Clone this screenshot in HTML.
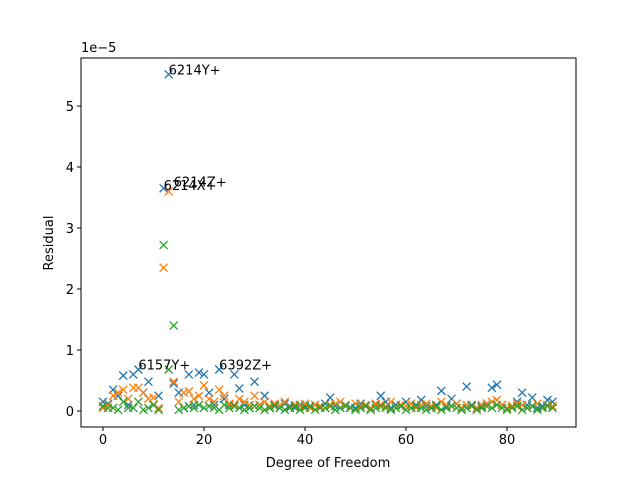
<!DOCTYPE html>
<html><head><meta charset="utf-8"><style>
body{margin:0;background:#fff}
svg text{font-family:"DejaVu Sans","Liberation Sans",sans-serif;fill:#000}
</style></head><body>
<svg id="chart" width="640" height="480" xmlns="http://www.w3.org/2000/svg">
<rect width="640" height="480" fill="#fff"/>
<g id="marks"></g>
<g id="axes"></g>
</svg>
<script>
const seriesX = [0,1,2,3,4,5,6,7,8,9,10,11,12,13,14,15,16,17,18,19,20,21,22,23,24,25,26,27,28,29,30,31,32,33,34,35,36,37,38,39,40,41,42,43,44,45,46,47,48,49,50,51,52,53,54,55,56,57,58,59,60,61,62,63,64,65,66,67,68,69,70,71,72,73,74,75,76,77,78,79,80,81,82,83,84,85,86,87,88,89];
const blueVals = [0.15,0.12,0.35,0.25,0.58,0.1,0.6,0.68,0.3,0.48,0.1,0.25,3.65,5.52,0.45,0.3,0.05,0.6,0.1,0.63,0.6,0.3,0.1,0.68,0.2,0.1,0.6,0.37,0.1,0.05,0.48,0.1,0.25,0.05,0.1,0.05,0.12,0.08,0.05,0.1,0.08,0.05,0.1,0.06,0.12,0.22,0.08,0.05,0.1,0.06,0.05,0.12,0.08,0.05,0.1,0.25,0.15,0.05,0.1,0.08,0.15,0.05,0.1,0.18,0.08,0.05,0.1,0.33,0.08,0.2,0.12,0.05,0.4,0.1,0.05,0.08,0.12,0.38,0.43,0.1,0.05,0.08,0.15,0.3,0.1,0.22,0.05,0.08,0.18,0.15];
const orangeVals = [0.05,0.1,0.25,0.3,0.35,0.2,0.38,0.38,0.3,0.2,0.22,0.05,2.35,3.6,0.48,0.15,0.3,0.32,0.2,0.25,0.42,0.2,0.15,0.35,0.25,0.12,0.1,0.2,0.15,0.1,0.25,0.1,0.15,0.08,0.12,0.1,0.15,0.05,0.1,0.08,0.12,0.05,0.1,0.08,0.05,0.1,0.12,0.15,0.1,0.05,0.12,0.08,0.1,0.05,0.12,0.1,0.08,0.15,0.05,0.1,0.08,0.12,0.05,0.1,0.12,0.08,0.05,0.15,0.1,0.08,0.12,0.05,0.1,0.08,0.05,0.1,0.12,0.15,0.18,0.1,0.05,0.08,0.12,0.1,0.05,0.08,0.12,0.05,0.1,0.08];
const greenVals = [0.08,0.05,0.05,0.02,0.15,0.05,0.05,0.15,0.02,0.05,0.1,0.02,2.72,0.68,1.4,0.02,0.05,0.08,0.05,0.1,0.05,0.08,0.05,0.02,0.1,0.05,0.08,0.05,0.02,0.05,0.08,0.05,0.02,0.05,0.08,0.05,0.02,0.05,0.08,0.02,0.05,0.08,0.02,0.05,0.05,0.08,0.02,0.05,0.08,0.05,0.02,0.05,0.08,0.02,0.05,0.08,0.05,0.02,0.05,0.08,0.02,0.05,0.08,0.05,0.02,0.05,0.08,0.02,0.05,0.08,0.05,0.02,0.05,0.08,0.02,0.05,0.08,0.05,0.1,0.05,0.02,0.05,0.08,0.02,0.05,0.08,0.02,0.05,0.08,0.05];
const xTicks = [0,20,40,60,80];
const yTicks = [0,1,2,3,4,5];
const annLabels = ["6214Y+","6214Z+","6214X+","6157Y+","6392Z+"];
const annX = [13,14,12,7,23];
const annY = [5.52,3.68,3.62,0.68,0.68];

const NS="http://www.w3.org/2000/svg";
const L=81,R=576,T=58,B=427;
const xs=v=>103+v*(504-103)/79.4;
const ys=v=>411-v*61;
function mk(tag,attrs,parent){const e=document.createElementNS(NS,tag);for(const k in attrs)e.setAttribute(k,attrs[k]);parent.appendChild(e);return e;}
const marks=document.getElementById('marks'), axes=document.getElementById('axes');
const series=[[blueVals,'#1f77b4','blue'],[orangeVals,'#ff7f0e','orange'],[greenVals,'#2ca02c','green']];
series.forEach(([vals,c,n])=>{
  const g=mk('g',{stroke:c,'stroke-width':1.3},marks);
  
  
  vals.forEach((v,i)=>{const x=xs(seriesX[i]),y=ys(v),s=4;
    const p=mk('path',{d:`M${x-s},${y-s}L${x+s},${y+s}M${x-s},${y+s}L${x+s},${y-s}`},g);
    
    
  });
});
annLabels.forEach((t,i)=>{const e=mk('text',{x:xs(annX[i]),y:ys(annY[i]),'font-size':13},marks);e.textContent=t;
  
  });
const frame=mk('rect',{x:L,y:T,width:R-L,height:B-T,fill:'none',stroke:'#000','stroke-width':1},axes);


xTicks.forEach(t=>{const x=xs(t);mk('line',{x1:x,x2:x,y1:B,y2:B+4,stroke:'#000'},axes);
  const e=mk('text',{x:x,y:B+17,'font-size':13,'text-anchor':'middle'},axes);e.textContent=t;
  
  });
yTicks.forEach(t=>{const y=ys(t);mk('line',{x1:L-4,x2:L,y1:y,y2:y,stroke:'#000'},axes);
  const e=mk('text',{x:L-7,y:y+5,'font-size':13,'text-anchor':'end'},axes);e.textContent=t;
  
  });
</script>
<svg style="position:absolute;left:0;top:0" width="640" height="480">
<text x="81" y="52" font-size="13" font-family="DejaVu Sans, sans-serif">1e−5</text>
<text x="328" y="467" font-size="13" text-anchor="middle" font-family="DejaVu Sans, sans-serif">Degree of Freedom</text>
<text x="53" y="243" font-size="13" text-anchor="middle" transform="rotate(-90 53 243)" font-family="DejaVu Sans, sans-serif">Residual</text>
</svg>
</body></html>
